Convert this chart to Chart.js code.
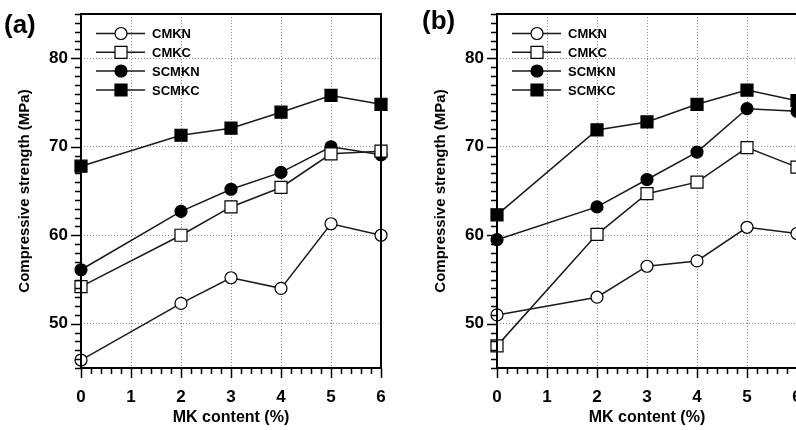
<!DOCTYPE html>
<html>
<head>
<meta charset="utf-8">
<script src="https://cdn.jsdelivr.net/npm/chart.js@4.4.0/dist/chart.umd.min.js"></script>
<style>
  html, body { margin: 0; padding: 0; background: #fff; overflow: hidden; }
  #wrap { position: relative; width: 796px; height: 430px; overflow: hidden; }
  canvas { position: absolute; top: 0; }
  #chartA { left: 0; }
  #chartB { left: 416px; }
</style>
</head>
<body>
<div id="wrap">
  <canvas id="chartA" width="400" height="430"></canvas>
  <canvas id="chartB" width="400" height="430"></canvas>
</div>
<script>
// MK content (%) on the x axis
const mkContent = [0, 2, 3, 4, 5, 6];
const xTicks = [0, 1, 2, 3, 4, 5, 6];
const yTicks = [50, 60, 70, 80];
const seriesNames = ['CMKN', 'CMKC', 'SCMKN', 'SCMKC'];

// (a) compressive strength, MPa
const cmknA  = [45.9, 52.3, 55.2, 54.0, 61.3, 60.0];
const cmkcA  = [54.2, 60.0, 63.2, 65.4, 69.2, 69.5];
const scmknA = [56.1, 62.7, 65.2, 67.1, 70.0, 69.1];
const scmkcA = [67.8, 71.3, 72.1, 73.9, 75.8, 74.8];

// (b) compressive strength, MPa
const cmknB  = [51.0, 53.0, 56.5, 57.1, 60.9, 60.2];
const cmkcB  = [47.5, 60.1, 64.7, 66.0, 69.9, 67.7];
const scmknB = [59.5, 63.2, 66.3, 69.4, 74.3, 74.0];
const scmkcB = [62.3, 71.9, 72.8, 74.8, 76.4, 75.2];

const FONT = "'Liberation Sans', Arial, sans-serif";

const markers = [
  { pointStyle: 'circle', radius: 6,   fill: '#fff' },
  { pointStyle: 'rect',   radius: 8.5, fill: '#fff' },
  { pointStyle: 'circle', radius: 6,   fill: '#000' },
  { pointStyle: 'rect',   radius: 8.5, fill: '#000' }
];

function makeDataset(i, values) {
  const m = markers[i];
  return {
    label: seriesNames[i],
    data: mkContent.map((x, k) => ({ x: x, y: values[k] })),
    borderColor: '#1a1a1a',
    borderWidth: 1.5,
    pointStyle: m.pointStyle,
    pointRadius: m.radius,
    pointHoverRadius: m.radius,
    pointBackgroundColor: m.fill,
    pointBorderColor: '#000',
    pointBorderWidth: 1.2,
    clip: false,
    tension: 0
  };
}

// frame, minor/major tick marks, legend and panel letter
const decorations = {
  id: 'decorations',
  afterDatasetsDraw(chart, args, opts) {
    const ctx = chart.ctx;
    const a = chart.chartArea;
    const xs = chart.scales.x, ys = chart.scales.y;
    ctx.save();
    ctx.strokeStyle = '#000';
    ctx.lineWidth = 1.5;
    ctx.beginPath();
    for (let v = 0; v <= 6.001; v += 0.2) {
      const px = Math.round(xs.getPixelForValue(v)) + 0.5;
      const major = Math.abs(v - Math.round(v)) < 0.01;
      ctx.moveTo(px, a.bottom);
      ctx.lineTo(px, a.bottom + (major ? 10 : 6));
    }
    for (let v = 45; v <= 85; v += 1) {
      const py = Math.round(ys.getPixelForValue(v)) + 0.5;
      ctx.moveTo(a.left, py);
      ctx.lineTo(a.left - (v % 10 === 0 ? 10 : 6), py);
    }
    ctx.stroke();

    ctx.lineWidth = 2;
    ctx.strokeRect(a.left, a.top, a.right - a.left, a.bottom - a.top);

    // legend
    const rows = [33.5, 52.3, 71, 90];
    chart.data.datasets.forEach((ds, i) => {
      const y = rows[i];
      ctx.strokeStyle = '#1a1a1a';
      ctx.lineWidth = 1.5;
      ctx.beginPath();
      ctx.moveTo(a.left + 15, y);
      ctx.lineTo(a.left + 64, y);
      ctx.stroke();
      ctx.fillStyle = ds.pointBackgroundColor;
      ctx.strokeStyle = '#000';
      ctx.lineWidth = 1.2;
      Chart.helpers.drawPoint(ctx, { pointStyle: ds.pointStyle, radius: ds.pointRadius, rotation: 0, borderWidth: 1.2 }, a.left + 40, y);
      ctx.fillStyle = '#000';
      ctx.font = 'bold 13px ' + FONT;
      ctx.textBaseline = 'middle';
      ctx.textAlign = 'left';
      ctx.fillText(ds.label, a.left + 71, y + 1);
    });

    ctx.font = 'bold 26px ' + FONT;
    ctx.textBaseline = 'alphabetic';
    ctx.fillText(opts.letter, opts.letterX, opts.letterY);
    ctx.restore();
  }
};

function makePanel(id, letter, letterX, letterY, series) {
  return new Chart(document.getElementById(id), {
    type: 'line',
    data: { datasets: series.map((v, i) => makeDataset(i, v)) },
    plugins: [decorations],
    options: {
      responsive: false,
      animation: false,
      events: [],
      layout: { autoPadding: false, padding: { top: 14, right: 19, left: 0, bottom: 0 } },
      scales: {
        x: {
          type: 'linear',
          min: 0, max: 6,
          afterFit: s => { s.height = 62; s.paddingLeft = 0; s.paddingRight = 0; },
          afterBuildTicks: s => { s.ticks = xTicks.map(v => ({ value: v })); },
          grid: {
            drawTicks: false,
            color: c => (c.tick && c.tick.value > 0 && c.tick.value < 6) ? '#8a8a8a' : 'rgba(0,0,0,0)',
            lineWidth: 1
          },
          border: { display: false, dash: [1, 2] },
          ticks: { padding: 19, color: '#000', font: { family: FONT, size: 17, weight: 'bold' }, maxRotation: 0 },
          title: { display: true, text: 'MK content (%)', color: '#000', font: { family: FONT, size: 16, weight: 'bold' }, padding: { top: 0, bottom: 3 } }
        },
        y: {
          min: 45, max: 85,
          afterFit: s => { s.width = 81; s.paddingTop = 0; s.paddingBottom = 0; },
          afterBuildTicks: s => { s.ticks = yTicks.map(v => ({ value: v })); },
          grid: { drawTicks: false, color: '#8a8a8a', lineWidth: 1 },
          border: { display: false, dash: [1, 2] },
          ticks: { padding: 13, color: '#000', font: { family: FONT, size: 17, weight: 'bold' } },
          title: { display: true, text: 'Compressive strength (MPa)', color: '#000', font: { family: FONT, size: 15, weight: 'bold' }, padding: { top: 16, bottom: 0 } }
        }
      },
      plugins: {
        legend: { display: false },
        tooltip: { enabled: false },
        decorations: { letter: letter, letterX: letterX, letterY: letterY }
      }
    }
  });
}

makePanel('chartA', '(a)', 4, 33, [cmknA, cmkcA, scmknA, scmkcA]);
makePanel('chartB', '(b)', 6, 29, [cmknB, cmkcB, scmknB, scmkcB]);
</script>
</body>
</html>
